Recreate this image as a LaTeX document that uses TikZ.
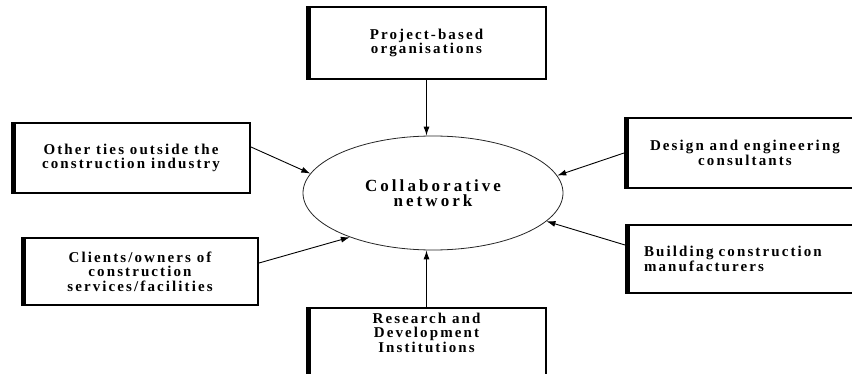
\documentclass[tikz,border=0pt]{standalone}
\usepackage{fontspec}
\newfontfamily\boxfont{Liberation Serif}[LetterSpace=14]
\newfontfamily\netfont{Liberation Serif}[LetterSpace=18]
\usetikzlibrary{arrows.meta,shapes.geometric}

\begin{document}
\begin{tikzpicture}[x=1pt,y=-1pt,
	box/.style={draw,line width=2pt,align=center,inner sep=0pt,
		font=\boxfont\bfseries\fontsize{15}{14.5}\selectfont,
		path picture={\draw[line width=7pt] (path picture bounding box.north west) -- (path picture bounding box.south west);}},
	link/.style={line width=0.9pt,-{Latex[length=9pt,width=6pt]}}]
	\clip (0,0) rectangle (852,374);
	% centre
	\node (net) at (433,193)[ellipse,draw=black!85,line width=0.8pt,minimum width=260pt,minimum height=114pt,
		inner sep=0pt,align=center,font=\netfont\bfseries\fontsize{17}{15.5}\selectfont]{Collaborative\\network};
	% boxes round it
	\node (project) at (426.5,43)[box,minimum width=239pt,minimum height=72pt]{Project-based\\organisations};
	\node (ties) at (131,158)[box,minimum width=238pt,minimum height=70pt]{Other ties outside the\\construction industry};
	\node (clients) at (140,271.5)[box,minimum width=236pt,minimum height=67pt]{Clients/owners of\\construction\\services/facilities};
	\node (design) at (745,153)[box,minimum width=240pt,minimum height=70pt]{Design and engineering\\consultants};
	\node (building) at (625,259)[box,anchor=west,inner xsep=18pt,text width=204pt,align=left,minimum height=68pt]{Building construction\\manufacturers};
	\node (research) at (426.5,307)[box,anchor=north,minimum width=239pt,inner ysep=5pt,text depth=45pt]{Research and\\Development\\Institutions};
	% arrows
	\draw[link] (project.south) -- (project.south |- net.north);
	\draw[link] ([yshift=11pt]ties.east) -- (net.171);
	\draw[link] ([yshift=8.5pt]clients.east) -- (net.208);
	\draw[link] (design.west) -- (net.8);
	\draw[link] ([yshift=14pt]building.west) -- (net.346);
	\draw[link] (research.north) -- (research.north |- net.south);
\end{tikzpicture}
\end{document}
